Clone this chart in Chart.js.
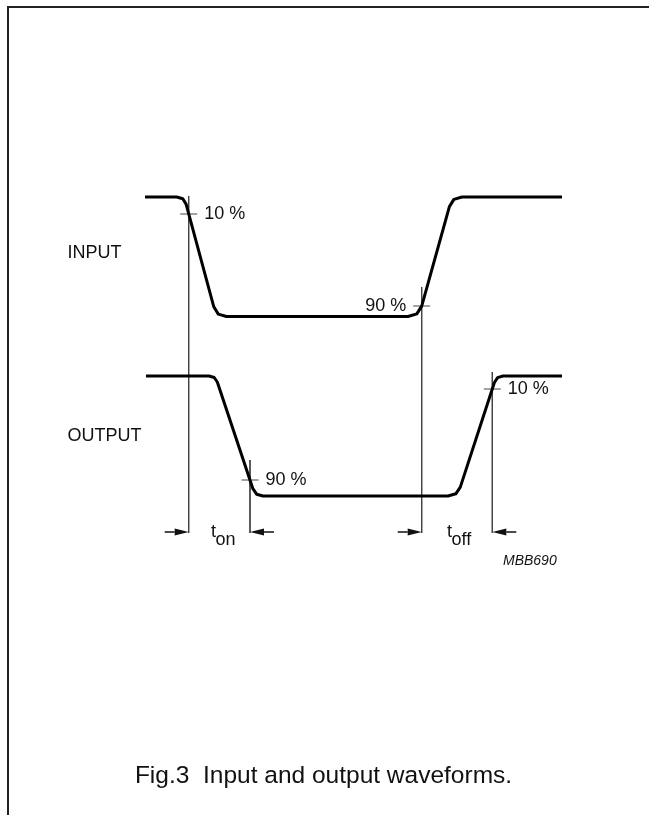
<!DOCTYPE html>
<html>
<head>
<meta charset="utf-8">
<script src="https://cdn.jsdelivr.net/npm/chart.js@4/dist/chart.umd.min.js"></script>
<style>
  html, body { margin: 0; padding: 0; background: #fff; }
  #wrap { position: relative; width: 649px; height: 815px; overflow: hidden; }
  #frame { position: absolute; left: 7px; top: 6px; right: -10px; bottom: -10px;
           border-top: 2px solid #222; border-left: 2px solid #222; pointer-events: none; }
  canvas { position: absolute; left: 0; top: 0; }
</style>
</head>
<body>
<div id="wrap">
  <canvas id="c" width="649" height="815"></canvas>
  <div id="frame"></div>
</div>
<script>
// ---- Data (diagram units: time along x, signal level along y, top = high) ----
const inputTime   = [145, 176.7, 182.8, 186.1, 213.8, 218.3, 226.4,
                     408, 416.8, 421.7, 449.4, 453.9, 462, 562];
const inputLevel  = [197, 197, 198.8, 204.1, 306.8, 314.1, 316.5,
                     316.5, 313.9, 306.1, 206.6, 199.4, 197, 197];
const outputTime  = [146, 209, 214.2, 217.3, 252.9, 256.6, 263,
                     448, 455.8, 460.3, 494.4, 497.6, 503, 562];
const outputLevel = [376, 376, 377.5, 382, 488.7, 494.2, 496,
                     496, 493.8, 487.1, 382.5, 377.6, 376, 376];

// switching reference markers (10 % / 90 % crossing points)
const markerTime   = [188.7, 421.7, 250, 492.3];
const markerLevel  = [214, 306, 480, 389];
const markerTop    = [196, 287, 460, 372];
const markerBottom = 533;
const markerLabels = ['10 %', '90 %', '90 %', '10 %'];
const markerLabelSide = ['right', 'left', 'right', 'right'];

// timing arrows (t_on between markers 0 and 2, t_off between markers 1 and 3)
const arrowLevel = 532;
const arrowTips  = [188.7, 250, 421.7, 492.3];
const arrowDirs  = [1, -1, 1, -1];
const timingNames = [['t', 'on'], ['t', 'off']];
const timingPos   = [211, 447];

const signalNames = ['INPUT', 'OUTPUT'];
const signalNameLevel = [253, 436];
const figCode = 'MBB690';
const caption = 'Fig.3  Input and output waveforms.';

const toPts = (xs, ys) => xs.map((x, i) => ({ x: x, y: ys[i] }));

const datasets = [];
datasets.push({ data: toPts(inputTime, inputLevel), borderColor: '#000', borderWidth: 3,
  borderJoinStyle: 'round', borderCapStyle: 'butt', tension: 0, showLine: true, pointRadius: 0, order: 0 });
datasets.push({ data: toPts(outputTime, outputLevel), borderColor: '#000', borderWidth: 3,
  borderJoinStyle: 'round', borderCapStyle: 'butt', tension: 0, showLine: true, pointRadius: 0, order: 0 });
markerTime.forEach((t, i) => {
  datasets.push({ data: [{ x: t, y: markerTop[i] }, { x: t, y: markerBottom }],
    borderColor: '#444', borderWidth: 1, showLine: true, pointRadius: 0, order: 1 });
  datasets.push({ data: [{ x: t - 8.5, y: markerLevel[i] }, { x: t + 8.5, y: markerLevel[i] }],
    borderColor: '#444', borderWidth: 1, showLine: true, pointRadius: 0, order: 1 });
});

const annot = {
  id: 'annot',
  afterDatasetsDraw(chart) {
    const ctx = chart.ctx, xs = chart.scales.x, ys = chart.scales.y;
    const X = v => xs.getPixelForValue(v), Y = v => ys.getPixelForValue(v);
    ctx.save();
    ctx.fillStyle = '#111';
    ctx.strokeStyle = '#111';
    // arrows
    arrowTips.forEach((tip, i) => {
      const d = arrowDirs[i];
      const tx = X(tip), ty = Y(arrowLevel);
      const tail = tx - d * 24, hb = tx - d * 14;
      ctx.lineWidth = 1.5;
      ctx.beginPath(); ctx.moveTo(tail, ty); ctx.lineTo(hb, ty); ctx.stroke();
      ctx.beginPath(); ctx.moveTo(tx, ty); ctx.lineTo(hb, ty - 3.5); ctx.lineTo(hb, ty + 3.5);
      ctx.closePath(); ctx.fill();
    });
    // percent labels
    ctx.font = '18px "Liberation Sans", Arial, sans-serif';
    ctx.textBaseline = 'middle';
    markerLabels.forEach((lab, i) => {
      const right = markerLabelSide[i] === 'right';
      ctx.textAlign = right ? 'left' : 'right';
      ctx.fillText(lab, X(markerTime[i] + (right ? 15.5 : -15.5)), Y(markerLevel[i]));
    });
    // signal names
    ctx.textAlign = 'left';
    signalNames.forEach((n, i) => ctx.fillText(n, X(67.5), Y(signalNameLevel[i])));
    // timing names with subscripts
    ctx.textBaseline = 'alphabetic';
    timingNames.forEach((tn, i) => {
      const x0 = X(timingPos[i]);
      ctx.fillText(tn[0], x0, Y(537));
      const w = ctx.measureText(tn[0]).width;
      ctx.fillText(tn[1], x0 + w - 0.5, Y(545));
    });
    // figure code
    ctx.font = 'italic 14px "Liberation Sans", Arial, sans-serif';
    ctx.textBaseline = 'middle';
    ctx.fillText(figCode, X(503), Y(561));
    // caption
    ctx.font = '24.5px "Liberation Sans", Arial, sans-serif';
    ctx.textAlign = 'center';
    ctx.fillText(caption, X(323.5), Y(776));
    ctx.restore();
  }
};

new Chart(document.getElementById('c'), {
  type: 'scatter',
  data: { datasets: datasets },
  options: {
    responsive: false,
    animation: false,
    layout: { padding: 0 },
    plugins: { legend: { display: false }, tooltip: { enabled: false } },
    scales: {
      x: { type: 'linear', min: 0, max: 649, display: false },
      y: { type: 'linear', min: 0, max: 815, reverse: true, display: false }
    }
  },
  plugins: [annot]
});
</script>
</body>
</html>
